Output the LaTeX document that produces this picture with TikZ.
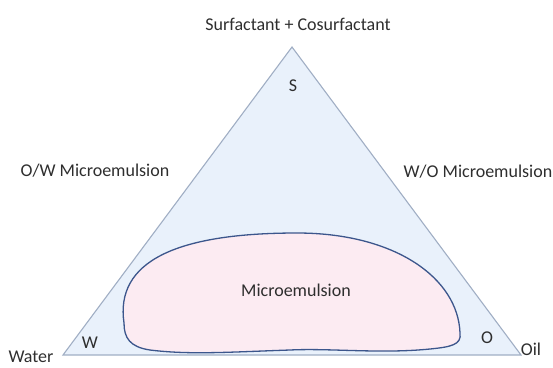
\documentclass[tikz,border=0pt]{standalone}
\usepackage{fontspec}
\setmainfont{Carlito}
\definecolor{diagfill}{HTML}{E9F1FB}
\definecolor{diagedge}{HTML}{A0AEC4}
\definecolor{blobfill}{HTML}{FCEBF2}
\definecolor{blobedge}{HTML}{3C568C}
\definecolor{labelink}{HTML}{2E2E2E}

\begin{document}
\begin{tikzpicture}[x=1pt,y=-1pt,
    lbl/.style={font=\fontsize{18}{20}\selectfont,text=labelink,inner sep=0pt}]
    \path[use as bounding box] (0,0) rectangle (553,367);

    % Corners of the phase triangle.
    \coordinate (apexS) at (292,47);
    \coordinate (vertW) at (63,355);
    \coordinate (vertO) at (521,355);

    \filldraw[fill=diagfill,draw=diagedge,line width=1.1pt,line join=miter]
      (apexS) -- (vertO) -- (vertW) -- cycle;

    % The single-phase microemulsion region.
    \filldraw[fill=blobfill,draw=blobedge,line width=1.3pt]
      (124,323) .. controls (115,262) and (175,233) .. (297,233)
      .. controls (395,233) and (458,278) .. (460,333)
      .. controls (462,345) and (450,347) .. (430,349)
      .. controls (380,354) and (330,348) .. (290,350)
      .. controls (230,352) and (190,355) .. (150,350)
      .. controls (130,347) and (124,338) .. cycle;

    \node[lbl] (surf) at (298,24) {Surfactant + Cosurfactant};
    \node[lbl] (cornerS) at (293,86) {S};
    \node[lbl] (cornerW) at (90,343) {W};
    \node[lbl] (cornerO) at (487,338) {O};
    \node[lbl] (water) at (31,357) {Water};
    \node[lbl] (oil) at (531,349) {Oil};
    \node[lbl] (owme) at (95,171) {O/W Microemulsion};
    \node[lbl] (wome) at (478,172) {W/O Microemulsion};
    \node[lbl] (micro) at (296,290) {Microemulsion};
  \end{tikzpicture}
\end{document}
